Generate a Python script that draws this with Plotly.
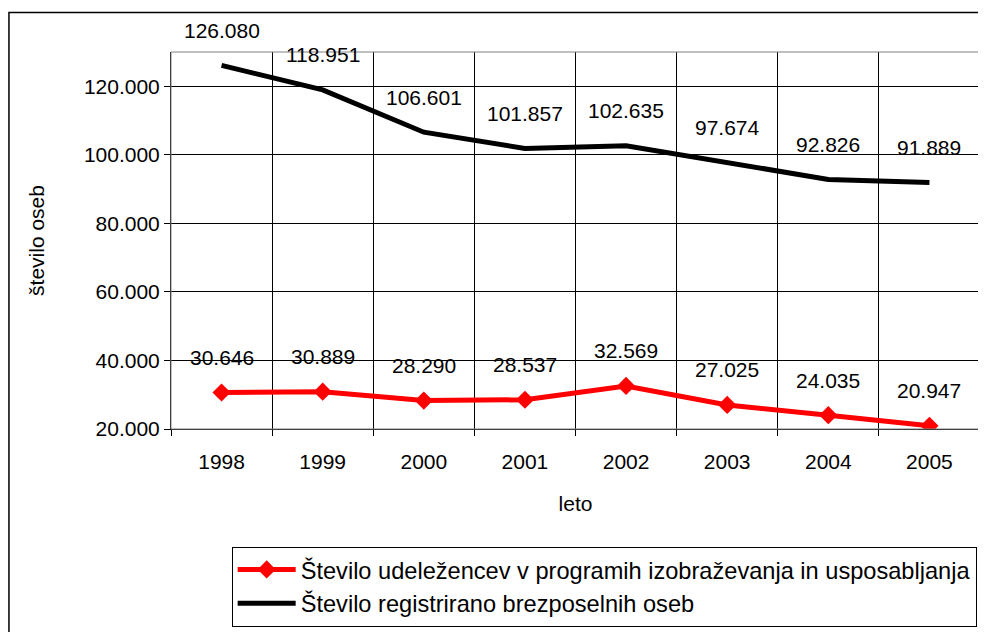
import plotly.graph_objs as go

leta = ['1998', '1999', '2000', '2001', '2002', '2003', '2004', '2005']
udelezenci = [30646, 30889, 28290, 28537, 32569, 27025, 24035, 20947]
brezposelni = [126080, 118951, 106601, 101857, 102635, 97674, 92826, 91889]

ime_udel = 'Število udeležencev v programih izobraževanja in usposabljanja'
ime_brez = 'Število registrirano brezposelnih oseb'

def fmt(v):
    return '{:,}'.format(v).replace(',', '.')

font = dict(family='Liberation Sans, Arial', color='black')

data = [
    go.Scatter(
        x=leta, y=udelezenci,
        mode='lines+markers',
        name=ime_udel,
        line=dict(color='#ff0000', width=5),
        marker=dict(symbol='diamond', size=14, color='#ff0000'),
    ),
    go.Scatter(
        x=leta, y=brezposelni,
        mode='lines',
        name=ime_brez,
        line=dict(color='black', width=5),
    ),
]

# oznake vrednosti nad tockami (x = indeks kategorije)
notes = []
for serija in (udelezenci, brezposelni):
    for i, v in enumerate(serija):
        notes.append(dict(
            x=i, y=v, xref='x', yref='y', text=fmt(v), showarrow=False,
            yshift=35, font=dict(size=21, **font),
        ))

layout = go.Layout(
    width=978,
    height=624,
    margin=dict(l=163, r=6, t=44, b=199),
    paper_bgcolor='white',
    plot_bgcolor='white',
    separators=',.',
    font=dict(size=21, **font),
    showlegend=True,
    legend=dict(
        x=0.075, y=-0.312, xanchor='left', yanchor='top',
        bgcolor='white', bordercolor='black', borderwidth=1,
        font=dict(size=23.6, **font),
        itemwidth=58,
        tracegroupgap=0,
    ),
    xaxis=dict(
        title=dict(text='leto', font=dict(size=21, **font), standoff=24),
        type='category',
        tickson='boundaries',
        ticks='outside', ticklen=6, tickcolor='black',
        ticklabelstandoff=14,
        showgrid=True, gridcolor='black', gridwidth=1,
        showline=True, linecolor='black', mirror=False,
        tickfont=dict(size=21, **font),
        range=[-0.5, 7.5],
    ),
    yaxis=dict(
        title=dict(text='število oseb', font=dict(size=21, **font), standoff=33),
        range=[20000, 130000],
        tickvals=[20000, 40000, 60000, 80000, 100000, 120000],
        tickformat=',.0f',
        ticks='outside', ticklen=6, tickcolor='black',
        showgrid=True, gridcolor='black', gridwidth=1,
        showline=True, linecolor='black',
        zeroline=False,
        tickfont=dict(size=21, **font),
    ),
    annotations=notes,
    shapes=[
        # okvir plotnega obmocja (zgoraj, desno)
        dict(type='rect', xref='paper', yref='paper', x0=0, x1=1, y0=0, y1=1,
             line=dict(color='#808080', width=1)),
        # zunanji okvir grafikona
        dict(type='rect', xref='paper', yref='paper',
             x0=-0.2003, x1=1.2, y0=-0.7, y1=1.105,
             line=dict(color='black', width=1.5), layer='below'),
    ],
)

fig = go.Figure(data=data, layout=layout)
fig.write_html('out.html')
